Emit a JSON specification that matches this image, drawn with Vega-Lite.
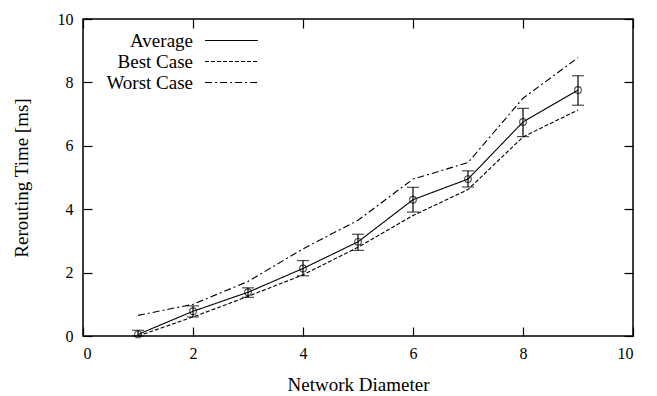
{
  "$schema": "https://vega.github.io/schema/vega-lite/v6.json",
  "width": 550,
  "height": 317,
  "autosize": "none",
  "padding": {"left": 83, "top": 19, "right": 24, "bottom": 60},
  "config": {
    "font": "Liberation Serif",
    "view": {"stroke": "black", "strokeWidth": 1.5},
    "axis": {
      "domain": false,
      "grid": false,
      "tickColor": "black",
      "tickSize": -9,
      "tickWidth": 1.2,
      "labelColor": "black",
      "titleColor": "black",
      "labelFontSize": 16,
      "titleFontSize": 19,
      "titleFontWeight": "normal",
      "labelFont": "Liberation Serif",
      "titleFont": "Liberation Serif"
    }
  },
  "datasets": {
    "lines": [
      {"diameter": 1, "series": "Average", "time": 0.05},
      {"diameter": 2, "series": "Average", "time": 0.78},
      {"diameter": 3, "series": "Average", "time": 1.38},
      {"diameter": 4, "series": "Average", "time": 2.13},
      {"diameter": 5, "series": "Average", "time": 2.97},
      {"diameter": 6, "series": "Average", "time": 4.3},
      {"diameter": 7, "series": "Average", "time": 4.95},
      {"diameter": 8, "series": "Average", "time": 6.75},
      {"diameter": 9, "series": "Average", "time": 7.76},
      {"diameter": 1, "series": "Best Case", "time": 0.0},
      {"diameter": 2, "series": "Best Case", "time": 0.6},
      {"diameter": 3, "series": "Best Case", "time": 1.25},
      {"diameter": 4, "series": "Best Case", "time": 1.93},
      {"diameter": 5, "series": "Best Case", "time": 2.8},
      {"diameter": 6, "series": "Best Case", "time": 3.8},
      {"diameter": 7, "series": "Best Case", "time": 4.62},
      {"diameter": 8, "series": "Best Case", "time": 6.28},
      {"diameter": 9, "series": "Best Case", "time": 7.13},
      {"diameter": 1, "series": "Worst Case", "time": 0.65},
      {"diameter": 2, "series": "Worst Case", "time": 1.0},
      {"diameter": 3, "series": "Worst Case", "time": 1.72},
      {"diameter": 4, "series": "Worst Case", "time": 2.75},
      {"diameter": 5, "series": "Worst Case", "time": 3.65},
      {"diameter": 6, "series": "Worst Case", "time": 4.95},
      {"diameter": 7, "series": "Worst Case", "time": 5.47},
      {"diameter": 8, "series": "Worst Case", "time": 7.5},
      {"diameter": 9, "series": "Worst Case", "time": 8.78}
    ],
    "avg": [
      {"diameter": 1, "mean": 0.05, "low": 0.0, "high": 0.18},
      {"diameter": 2, "mean": 0.78, "low": 0.6, "high": 0.95},
      {"diameter": 3, "mean": 1.38, "low": 1.22, "high": 1.52},
      {"diameter": 4, "mean": 2.13, "low": 1.9, "high": 2.38},
      {"diameter": 5, "mean": 2.97, "low": 2.7, "high": 3.21},
      {"diameter": 6, "mean": 4.3, "low": 3.91, "high": 4.69},
      {"diameter": 7, "mean": 4.95, "low": 4.7, "high": 5.21},
      {"diameter": 8, "mean": 6.75, "low": 6.29, "high": 7.18},
      {"diameter": 9, "mean": 7.76, "low": 7.28, "high": 8.21}
    ]
  },
  "layer": [
    {
      "data": {"name": "lines"},
      "mark": {"type": "line", "color": "black", "strokeWidth": 1.1},
      "encoding": {
        "x": {
          "field": "diameter", "type": "quantitative",
          "scale": {"domain": [0, 10], "nice": false},
          "axis": {"title": "Network Diameter", "values": [0, 2, 4, 6, 8, 10], "labelPadding": 18, "titlePadding": 14}
        },
        "y": {
          "field": "time", "type": "quantitative",
          "scale": {"domain": [0, 10], "nice": false},
          "axis": {"title": "Rerouting Time [ms]", "values": [0, 2, 4, 6, 8, 10], "labelPadding": 19, "titlePadding": 26}
        },
        "strokeDash": {
          "field": "series", "type": "nominal",
          "scale": {"domain": ["Average", "Best Case", "Worst Case"], "range": [[1, 0], [4, 2], [7, 3, 2, 3]]},
          "legend": {
            "title": null,
            "orient": "none",
            "legendX": 139,
            "legendY": 12,
            "padding": 0,
            "symbolType": "M-5,0H5",
            "symbolSize": 112,
            "symbolStrokeColor": "black",
            "symbolFillColor": "transparent",
            "symbolStrokeWidth": 1.2,
            "labelAlign": "right",
            "labelOffset": -48,
            "labelFontSize": 19,
            "labelColor": "black",
            "labelFont": "Liberation Serif",
            "rowPadding": 1
          }
        }
      }
    },
    {
      "data": {"name": "avg"},
      "mark": {"type": "errorbar", "ticks": {"size": 12, "color": "black", "thickness": 1.2}, "rule": {"color": "black", "strokeWidth": 1.2}},
      "encoding": {
        "x": {"field": "diameter", "type": "quantitative", "axis": null},
        "y": {"field": "low", "type": "quantitative", "axis": null},
        "y2": {"field": "high"}
      }
    },
    {
      "data": {"name": "avg"},
      "mark": {"type": "point", "shape": "circle", "filled": false, "stroke": "black", "strokeWidth": 1.1, "size": 45},
      "encoding": {
        "x": {"field": "diameter", "type": "quantitative", "axis": {"orient": "top", "labels": false, "title": null, "values": [0, 2, 4, 6, 8, 10]}},
        "y": {"field": "mean", "type": "quantitative", "axis": {"orient": "right", "labels": false, "title": null, "values": [0, 2, 4, 6, 8, 10]}}
      }
    }
  ],
  "resolve": {"axis": {"x": "independent", "y": "independent"}}
}
